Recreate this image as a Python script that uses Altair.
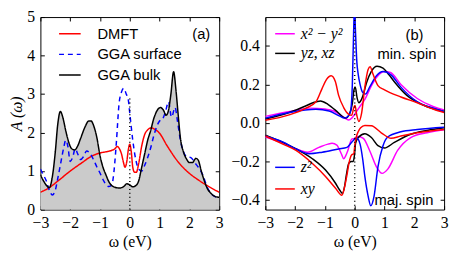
import altair as alt
import pandas as pd

# ---------------- panel (a) data ----------------
bulk_w = [-3.0,-2.9,-2.8,-2.7,-2.6,-2.5,-2.42,-2.33,-2.25,-2.15,-2.05,-1.95,-1.85,-1.75,-1.65,-1.5,-1.38,-1.3,-1.2,-1.1,
          -1.0,-0.9,-0.8,-0.7,-0.6,-0.5,-0.35,-0.2,-0.1,0.0,0.1,0.2,0.3,0.4,0.5,0.6,0.7,0.8,0.9,1.03,
          1.13,1.22,1.3,1.38,1.47,1.55,1.62,1.7,1.8,1.9,2.0,2.1,2.22,2.3,2.4,2.5,2.6,2.7,2.8,2.9,3.0]
bulk_a = [0.9,0.75,0.63,0.57,0.85,1.5,2.2,2.55,2.4,2.05,1.75,1.58,1.55,1.65,1.85,2.15,2.3,2.3,2.15,1.85,
          1.4,1.1,0.9,0.72,0.62,0.58,0.56,0.6,0.67,0.64,0.59,0.62,0.75,1.1,1.45,1.8,2.05,2.35,2.55,2.65,
          2.58,2.45,2.58,3.0,3.58,3.1,2.5,1.85,1.5,1.32,1.22,1.22,1.33,1.28,1.0,0.75,0.55,0.44,0.37,0.33,0.32]

dmft_w = [-3.0,-2.7,-2.4,-2.0,-1.6,-1.3,-1.0,-0.8,-0.6,-0.5,-0.42,-0.35,-0.28,-0.22,-0.16,-0.1,-0.05,0.0,0.05,0.1,
          0.16,0.22,0.3,0.4,0.5,0.6,0.72,0.85,1.0,1.25,1.6,2.0,2.3,2.6,3.0]
dmft_a = [0.45,0.57,0.75,1.0,1.22,1.38,1.47,1.5,1.54,1.58,1.64,1.58,1.45,1.25,1.1,1.25,1.55,1.7,1.5,1.1,
          0.97,0.97,1.2,1.65,1.95,2.07,2.12,2.08,1.98,1.66,1.26,0.94,0.77,0.62,0.45]

surf_w = [-3.0,-2.9,-2.8,-2.7,-2.6,-2.5,-2.42,-2.32,-2.22,-2.15,-2.08,-2.0,-1.92,-1.83,-1.75,-1.65,-1.55,-1.45,-1.35,-1.22,
          -1.1,-1.0,-0.9,-0.8,-0.7,-0.6,-0.53,-0.45,-0.36,-0.28,-0.2,-0.12,-0.05,0.0,0.1,0.2,0.3,0.4,0.5,0.6,
          0.7,0.8,0.9,1.0,1.1,1.2,1.3,1.4,1.52,1.6,1.7,1.8,1.9,2.05,2.2,2.3,2.45,2.6,2.75,2.9,3.0]
surf_a = [1.05,0.9,0.74,0.5,0.38,0.5,0.8,1.2,1.6,1.8,1.65,1.25,1.35,1.58,1.45,1.3,1.38,1.52,1.48,1.3,
          1.1,0.95,0.78,0.65,0.6,0.65,1.0,1.75,2.75,3.05,3.15,3.0,2.85,2.5,1.8,1.3,1.05,1.0,1.15,1.35,
          1.6,1.9,2.15,2.3,2.35,2.55,2.8,2.4,2.65,2.3,1.8,1.5,1.38,1.35,1.2,1.1,0.9,0.58,0.4,0.32,0.3]

series_a = ["DMFT", "GGA surface", "GGA bulk"]
colors_a = ["#ff0000", "#0000ff", "#000000"]
dashes_a = [[1, 0], [5, 4], [1, 0]]

# ---------------- panel (b) data ----------------
m_min_w = [-3.0,-2.5,-2.0,-1.5,-1.0,-0.7,-0.45,-0.3,-0.2,-0.1,0.0,0.15,0.35,0.55,0.75,1.0,1.2,1.55,2.1,2.65,3.0]
m_min_v = [0.034,0.05,0.065,0.077,0.072,0.062,0.038,0.022,0.015,0.025,0.045,0.08,0.125,0.19,0.24,0.267,0.262,0.2,0.127,0.084,0.068]
k_min_w = [-3.0,-2.2,-1.65,-1.4,-1.15,-0.9,-0.6,-0.4,-0.3,-0.18,-0.08,-0.02,0.02,0.08,0.14,0.25,0.4,0.55,0.75,0.95,1.15,1.35,1.75,2.3,3.0]
k_min_v = [0.02,0.054,0.088,0.105,0.114,0.097,0.06,0.032,0.025,0.045,0.1,0.175,0.185,0.13,0.105,0.13,0.21,0.265,0.294,0.285,0.25,0.21,0.143,0.093,0.059]
b_min_w = [-3.0,-2.2,-1.3,-0.86,-0.5,-0.35,-0.22,-0.14,-0.08,-0.04,-0.01,0.03,0.07,0.12,0.18,0.26,0.36,0.5,0.73,0.95,1.22,1.55,2.1,2.65,3.0]
b_min_v = [0.025,0.054,0.071,0.062,0.035,0.025,0.035,0.06,0.2,0.45,0.6,0.46,0.32,0.25,0.2,0.16,0.15,0.186,0.245,0.267,0.25,0.186,0.11,0.076,0.059]
r_min_w = [-3.0,-2.2,-1.65,-1.3,-1.1,-0.95,-0.79,-0.65,-0.54,-0.37,-0.2,-0.1,-0.03,0.01,0.07,0.14,0.23,0.34,0.45,0.52,0.61,0.78,1.0,1.55,2.1,2.65,3.0]
r_min_v = [0.014,0.042,0.076,0.11,0.177,0.225,0.245,0.215,0.143,0.08,0.045,0.04,0.08,0.09,0.04,0.008,0.05,0.186,0.278,0.292,0.255,0.194,0.172,0.135,0.105,0.071,0.054]

m_maj_w = [-3.0,-2.4,-1.97,-1.58,-1.2,-0.9,-0.76,-0.6,-0.45,-0.37,-0.3,-0.23,-0.1,0.0,0.12,0.29,0.5,0.73,0.92,1.11,1.44,1.88,2.43,3.0]
m_maj_v = [-0.073,-0.105,-0.135,-0.152,-0.127,-0.11,-0.106,-0.115,-0.16,-0.186,-0.17,-0.143,-0.084,-0.08,-0.07,-0.08,-0.143,-0.228,-0.262,-0.24,-0.143,-0.076,-0.051,-0.036]
k_maj_w = [-3.0,-2.41,-1.97,-1.42,-0.98,-0.65,-0.5,-0.41,-0.34,-0.28,-0.2,-0.12,-0.05,-0.01,0.03,0.12,0.34,0.56,0.78,1.0,1.33,1.88,2.43,3.0]
k_maj_v = [-0.063,-0.101,-0.135,-0.186,-0.245,-0.312,-0.35,-0.366,-0.33,-0.27,-0.21,-0.2,-0.2,-0.17,-0.105,-0.076,-0.056,-0.076,-0.118,-0.13,-0.101,-0.059,-0.039,-0.025]
b_maj_w = [-3.0,-2.4,-1.97,-1.53,-1.09,-0.54,-0.26,-0.1,0.0,0.07,0.18,0.27,0.34,0.45,0.54,0.65,0.78,0.95,1.11,1.55,2.1,3.0]
b_maj_v = [-0.068,-0.1,-0.135,-0.16,-0.152,-0.135,-0.127,-0.1,-0.084,-0.08,-0.11,-0.19,-0.278,-0.38,-0.43,-0.38,-0.228,-0.118,-0.073,-0.046,-0.034,-0.022]
r_maj_w = [-3.0,-2.41,-1.97,-1.42,-0.98,-0.65,-0.43,-0.35,-0.26,-0.18,-0.1,-0.03,0.0,0.05,0.12,0.2,0.34,0.56,0.89,1.22,1.55,2.1,3.0]
r_maj_v = [-0.068,-0.11,-0.143,-0.211,-0.278,-0.338,-0.376,-0.34,-0.27,-0.2,-0.165,-0.16,-0.12,-0.075,-0.045,-0.025,-0.013,-0.015,-0.051,-0.08,-0.068,-0.051,-0.034]

orb_top = ["x² − y²", "yz, xz"]
col_top = ["#ff00ff", "#000000"]
orb_bot = ["z²", "xy"]
col_bot = ["#0000ff", "#ff0000"]

XT = [-3, -2, -1, 0, 1, 2, 3]
YT_A = [0, 1, 2, 3, 4, 5]
YT_B = [-0.4, -0.2, 0.0, 0.2, 0.4]

SERIF = "Liberation Serif"
SANS = "Liberation Sans"
W, H = 182, 196

xs = alt.Scale(domain=[-3, 3], nice=False, zero=False)
ys_a = alt.Scale(domain=[0, 5], nice=False, zero=False)
ys_b = alt.Scale(domain=[-0.45, 0.55], nice=False, zero=False)


def frame(w, v, name=""):
    return pd.DataFrame({"w": w, "v": v, "series": [name] * len(w)})


def lab_x():
    return alt.Axis(orient="bottom", values=XT, format="d", ticks=False, tickSize=0, labelPadding=5,
                    labelFlush=False, title="ω (eV)", titlePadding=4)


def lab_y(values, fmt, title, extent):
    kw = dict(orient="left", values=values, format=fmt, ticks=False, tickSize=0, labelPadding=6,
              minExtent=extent, maxExtent=extent)
    if title:
        kw.update(title=title, titlePadding=2, titleFontStyle="italic")
    else:
        kw.update(title=None)
    return alt.Axis(**kw)


def tick_ax(orient, values):
    return alt.Axis(orient=orient, values=values, labels=False, ticks=True, tickSize=4, tickWidth=1,
                    tickColor="black", offset=-4, title=None, minExtent=0, domain=False, grid=False)


# ---------------- panel (a) ----------------
leg_a = alt.Legend(orient="none", legendX=18, legendY=5, title=None, symbolType="stroke",
                   symbolSize=484, symbolStrokeWidth=1.5, labelFont=SANS, labelFontSize=15,
                   labelColor="black", labelOffset=16, rowPadding=1, padding=0)
col_a = alt.Scale(domain=series_a, range=colors_a)
dash_a = alt.Scale(domain=series_a, range=dashes_a)

area = alt.Chart(frame(bulk_w, bulk_a)).mark_area(color="#cbcbcb", interpolate="monotone").encode(
    x=alt.X("w:Q", scale=xs, axis=lab_x()),
    y=alt.Y("v:Q", scale=ys_a, axis=lab_y(YT_A, "d", "A (ω)", 14)),
)


def line_a(w, v, name, xaxis=None, yaxis=None):
    return alt.Chart(frame(w, v, name)).mark_line(strokeWidth=1.5, interpolate="monotone", clip=True).encode(
        x=alt.X("w:Q", scale=xs, axis=xaxis),
        y=alt.Y("v:Q", scale=ys_a, axis=yaxis),
        color=alt.Color("series:N", scale=col_a, legend=leg_a),
        strokeDash=alt.StrokeDash("series:N", scale=dash_a, legend=leg_a),
    )


l_dmft = line_a(dmft_w, dmft_a, "DMFT", tick_ax("bottom", XT), tick_ax("left", YT_A))
l_surf = line_a(surf_w, surf_a, "GGA surface")
l_bulk = line_a(bulk_w, bulk_a, "GGA bulk")

rule_a = alt.Chart(pd.DataFrame({"w": [0.0], "v": [0.0], "v2": [2.95]})).mark_rule(
    color="black", strokeWidth=1.5, strokeDash=[1, 3]).encode(
    x=alt.X("w:Q", scale=xs, axis=tick_ax("top", XT)),
    y=alt.Y("v:Q", scale=ys_a, axis=tick_ax("right", YT_A)),
    y2="v2:Q",
)

txt_a = alt.Chart(pd.DataFrame({"w": [2.7], "v": [4.57], "t": ["(a)"]})).mark_text(
    align="right", baseline="middle", font=SANS, fontSize=15, color="black").encode(
    x=alt.X("w:Q", scale=xs, axis=None), y=alt.Y("v:Q", scale=ys_a, axis=None), text="t:N")

left = alt.layer(area, l_dmft, l_surf, l_bulk, rule_a, txt_a).resolve_axis(
    x="independent", y="independent").properties(width=W, height=H)

# ---------------- panel (b) ----------------
def leg_b(y, pad):
    return alt.Legend(orient="none", legendX=9, legendY=y, title=None, symbolType="stroke",
                      symbolSize=400, symbolStrokeWidth=1.5, labelFont=SERIF, labelFontStyle="italic",
                      labelFontSize=16, labelColor="black", labelOffset=5, rowPadding=pad,
                      padding=0)


sc_top = alt.Scale(domain=orb_top, range=col_top)
sc_bot = alt.Scale(domain=orb_bot, range=col_bot)


def line_b(w, v, name, sc, leg):
    return alt.Chart(frame(w, v, name)).mark_line(strokeWidth=1.5, interpolate="monotone", clip=True).encode(
        x=alt.X("w:Q", scale=xs, axis=None),
        y=alt.Y("v:Q", scale=ys_b, axis=None),
        color=alt.Color("series:N", scale=sc, legend=leg),
    )


LT = leg_b(6, 1)
LB = leg_b(142, 3)
group_top = alt.layer(
    line_b(m_min_w, m_min_v, orb_top[0], sc_top, LT),
    line_b(m_maj_w, m_maj_v, orb_top[0], sc_top, LT),
    line_b(k_min_w, k_min_v, orb_top[1], sc_top, LT),
    line_b(k_maj_w, k_maj_v, orb_top[1], sc_top, LT),
)
group_bot = alt.layer(
    line_b(b_min_w, b_min_v, orb_bot[0], sc_bot, LB),
    line_b(b_maj_w, b_maj_v, orb_bot[0], sc_bot, LB),
    line_b(r_min_w, r_min_v, orb_bot[1], sc_bot, LB),
    line_b(r_maj_w, r_maj_v, orb_bot[1], sc_bot, LB),
)

rule_b = alt.Chart(pd.DataFrame({"w": [0.0], "v": [-0.45], "v2": [0.55]})).mark_rule(
    color="black", strokeWidth=1.5, strokeDash=[1, 3]).encode(
    x=alt.X("w:Q", scale=xs, axis=lab_x()),
    y=alt.Y("v:Q", scale=ys_b, axis=lab_y(YT_B, ".1f", None, 37)),
    y2="v2:Q",
)

txt_b1 = alt.Chart(pd.DataFrame({"w": [2.31, 2.74], "v": [0.458, 0.356], "t": ["(b)", "min. spin"]})).mark_text(
    align="right", baseline="middle", font=SANS, fontSize=15, color="black").encode(
    x=alt.X("w:Q", scale=xs, axis=tick_ax("bottom", XT)),
    y=alt.Y("v:Q", scale=ys_b, axis=tick_ax("left", YT_B)), text="t:N")
txt_b2 = alt.Chart(pd.DataFrame({"w": [2.64], "v": [-0.399], "t": ["maj. spin"]})).mark_text(
    align="right", baseline="middle", font=SANS, fontSize=15, color="black").encode(
    x=alt.X("w:Q", scale=xs, axis=tick_ax("top", XT)),
    y=alt.Y("v:Q", scale=ys_b, axis=tick_ax("right", YT_B)), text="t:N")

right = alt.layer(group_top, group_bot, rule_b, txt_b1, txt_b2).resolve_scale(
    color="independent").resolve_axis(x="independent", y="independent").properties(width=W, height=H)

chart = alt.hconcat(left, right, spacing=4).resolve_scale(
    color="independent", strokeDash="independent").properties(
    padding={"left": 0, "top": -2, "right": 0, "bottom": 0}).configure_view(
    stroke="black", strokeWidth=1).configure_axis(
    domain=False, grid=False, labelFont=SERIF, labelFontSize=16, labelColor="black",
    titleFont=SERIF, titleFontSize=16, titleFontWeight="normal", titleColor="black").configure_legend(
    labelFont=SANS, labelFontSize=15, labelColor="black")

chart.save("out.html", embed_options={"renderer": "svg", "actions": False})
